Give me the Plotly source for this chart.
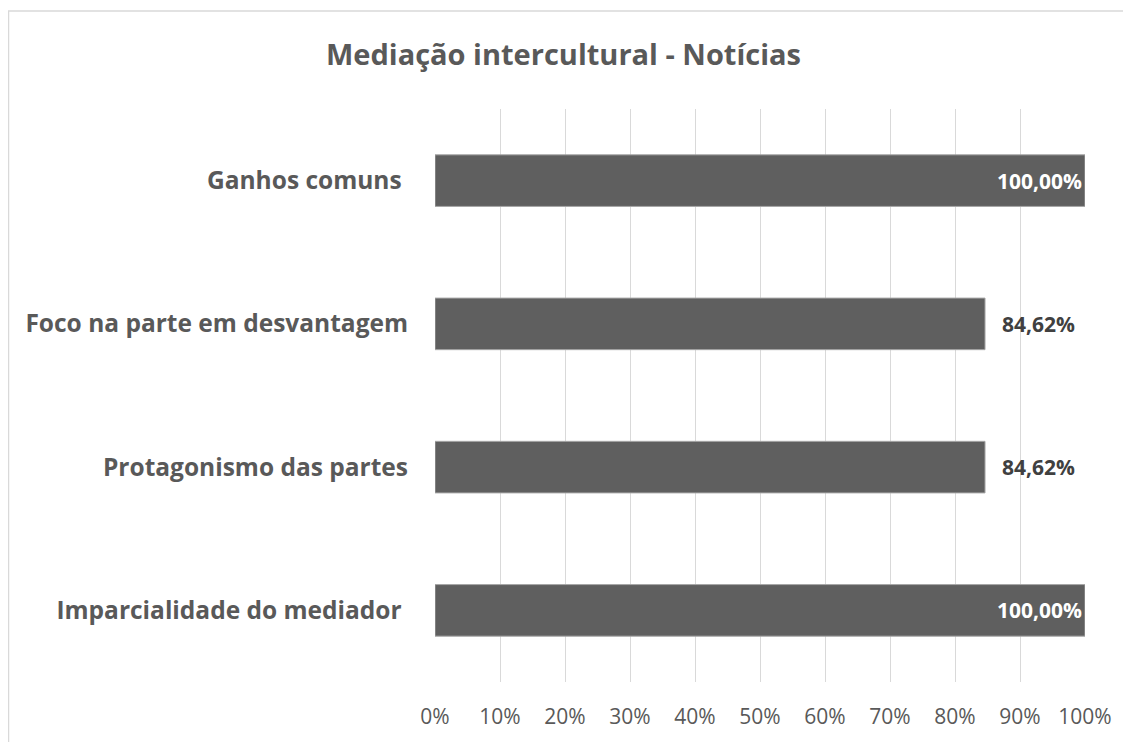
import plotly.graph_objects as go

categories = ["Imparcialidade do mediador\u00a0", "Protagonismo das partes",
              "Foco na parte em desvantagem", "Ganhos comuns\u00a0"]
values = [100.00, 84.62, 84.62, 100.00]
tick_vals = [0, 10, 20, 30, 40, 50, 60, 70, 80, 90, 100]
tick_text = ["0%", "10%", "20%", "30%", "40%", "50%", "60%", "70%", "80%", "90%", "100%"]
title_text = "Mediação intercultural - Notícias"

positions = ["inside" if v >= 99.99 else "outside" for v in values]
labels = [("" if p == "inside" else "\u2002\u2009") + f"{v:.2f}".replace(".", ",") + "%"
          for v, p in zip(values, positions)]
text_colors = ["#ffffff" if p == "inside" else "#404040" for p in positions]

FONT = "Open Sans"
W, H = 1123, 734
L, R, T, B = 427, 46, 101, 57
PW, PH = W - L - R, H - T - B

fig = go.Figure(go.Bar(
    y=categories, x=values, orientation="h",
    marker=dict(color="#5f5f5f", line=dict(color="#a6a6a6", width=1)),
    width=0.36,
    text=labels, textposition=positions, insidetextanchor="end",
    textfont=dict(family=FONT, size=21, color=text_colors, weight="bold"),
    cliponaxis=False,
))

fig.update_layout(
    width=W, height=H,
    margin=dict(l=L, r=R, t=T, b=B),
    paper_bgcolor="white", plot_bgcolor="white",
    showlegend=False,
    title=dict(text=title_text, x=(563.5 - 8) / W, xanchor="center",
               y=1 - (55 - 8) / H, yanchor="middle",
               font=dict(family=FONT, size=29, color="#595959", weight="bold")),
    xaxis=dict(range=[0, 100], tickvals=tick_vals, ticktext=tick_text,
               showgrid=True, gridcolor="#d9d9d9", gridwidth=1.3,
               zeroline=False, showline=False, ticks="",
               ticklabelstandoff=20,
               tickfont=dict(family=FONT, size=21, color="#595959")),
    yaxis=dict(showgrid=False, zeroline=False, showline=False, ticks="",
               ticklabelstandoff=26,
               tickfont=dict(family=FONT, size=24.5, color="#595959", weight="bold")),
    bargap=0.64,
    shapes=[dict(type="rect", xref="paper", yref="paper",
                 x0=(0.5 - L) / PW, x1=1.3, y0=-1, y1=(H - B - 2.5) / PH,
                 line=dict(color="#d9d9d9", width=1.5), fillcolor="rgba(0,0,0,0)",
                 layer="below")],
)

fig.write_html("out.html")
